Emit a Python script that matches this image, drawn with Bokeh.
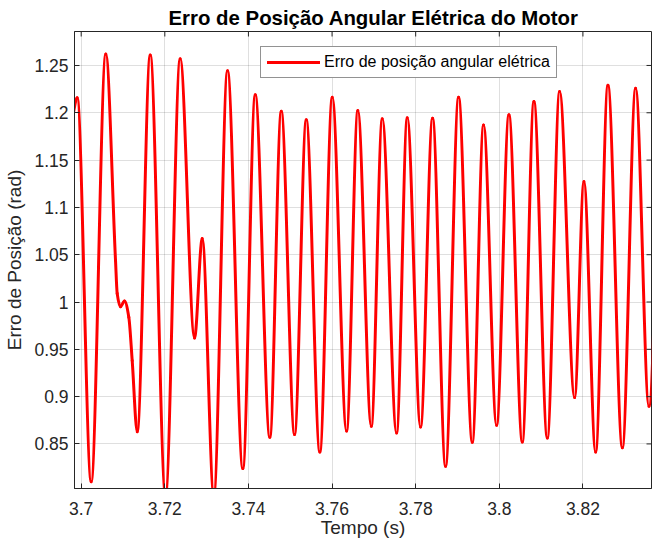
import numpy as np
from bokeh.plotting import figure
from bokeh.models import Range1d, FixedTicker, Legend, LegendItem
from bokeh.embed import file_html
from bokeh.resources import INLINE

# ---- data (time in s, error in rad) ----
time_s = [3.69792, 3.69904, 3.70239, 3.70589, 3.70821, 3.70861, 3.70940, 3.71036,
          3.71139, 3.71220, 3.71340, 3.71651, 3.72017, 3.72368, 3.72711, 3.72895,
          3.73172, 3.73500, 3.73866, 3.74163, 3.74512, 3.74785, 3.75103, 3.75383,
          3.75708, 3.76005, 3.76347, 3.76617, 3.76938, 3.77201, 3.77543, 3.77799,
          3.78117, 3.78404, 3.78715, 3.79026, 3.79354, 3.79624, 3.79935, 3.80230,
          3.80550, 3.80828, 3.81148, 3.81443, 3.81801, 3.82024, 3.82304, 3.82598,
          3.82943, 3.83261, 3.83579, 3.83859]
erro_rad = [1.195, 1.216, 0.810, 1.262, 1.044, 1.009, 0.995, 1.001,
            0.984, 0.938, 0.863, 1.261, 0.796, 1.257, 0.962, 1.067,
            0.796, 1.2445, 0.824, 1.219, 0.857, 1.2015, 0.860, 1.1925,
            0.8415, 1.2165, 0.8637, 1.2024, 0.8687, 1.1937, 0.8616, 1.1947,
            0.868, 1.1943, 0.8264, 1.2165, 0.8518, 1.187, 0.8697, 1.198,
            0.852, 1.212, 0.8563, 1.2225, 0.899, 1.1274, 0.8415, 1.229,
            0.846, 1.226, 0.8898, 1.21]

x_ticks = [3.70, 3.72, 3.74, 3.76, 3.78, 3.80, 3.82]
y_ticks = [0.85, 0.90, 0.95, 1.00, 1.05, 1.10, 1.15, 1.20, 1.25]

title_text = "Erro de Posição Angular Elétrica do Motor"
legend_text = "Erro de posição angular elétrica"
x_label = "Tempo (s)"
y_label = "Erro de Posição (rad)"

AX = "#262626"
FONT = "Liberation Sans"

X0, X1 = 3.6984, 3.8364
Y0, Y1 = 0.8029, 1.2859
FRAME_W, FRAME_H = 577, 457
TICK_PX = 5

# smooth rendering: cubic Bezier segments with monotone (PCHIP) tangents
t = np.array(time_s)
v = np.array(erro_rad)
h = np.diff(t)
d = np.diff(v) / h
m = np.zeros_like(v)
for i in range(1, len(v) - 1):
    if d[i - 1] * d[i] > 0:
        w1 = 2 * h[i] + h[i - 1]
        w2 = h[i] + 2 * h[i - 1]
        m[i] = (w1 + w2) / (w1 / d[i - 1] + w2 / d[i])
m[0] = d[0]
m[-1] = d[-1]

p = figure(width=652, height=544,
           x_range=Range1d(X0, X1), y_range=Range1d(Y0, Y1),
           output_backend="svg", toolbar_location=None,
           min_border_left=74, min_border_right=1, min_border_top=31, min_border_bottom=56,
           background_fill_color="white", border_fill_color="white")

p.title.text = title_text
p.title.text_font = FONT
p.title.text_font_size = "20.4px"
p.title.text_font_style = "bold"
p.title.text_color = "black"
p.title.align = "left"
p.title.offset = 94
p.title.standoff = 5

p.xgrid.ticker = FixedTicker(ticks=x_ticks)
p.ygrid.ticker = FixedTicker(ticks=y_ticks)
p.grid.grid_line_color = AX
p.grid.grid_line_alpha = 0.15
p.grid.grid_line_width = 1

r = p.bezier(x0=t[:-1], y0=v[:-1], x1=t[1:], y1=v[1:],
             cx0=t[:-1] + h / 3, cy0=v[:-1] + m[:-1] * h / 3,
             cx1=t[1:] - h / 3, cy1=v[1:] - m[1:] * h / 3,
             line_color="#ff0000", line_width=3, line_cap="round")

# inward box ticks on the top and right edges
dy_tick = TICK_PX * (Y1 - Y0) / FRAME_H
dx_tick = TICK_PX * (X1 - X0) / FRAME_W
p.segment(x0=x_ticks, x1=x_ticks, y0=[Y1] * len(x_ticks), y1=[Y1 - dy_tick] * len(x_ticks),
          line_color=AX, line_width=1)
p.segment(x0=[X1] * len(y_ticks), x1=[X1 - dx_tick] * len(y_ticks), y0=y_ticks, y1=y_ticks,
          line_color=AX, line_width=1)

p.outline_line_color = AX
p.outline_line_width = 1

for ax in (p.xaxis[0], p.yaxis[0]):
    ax.axis_line_color = AX
    ax.major_tick_line_color = AX
    ax.major_tick_in = TICK_PX
    ax.major_tick_out = 0
    ax.minor_tick_line_color = None
    ax.major_label_text_font = FONT
    ax.major_label_text_font_size = "17.5px"
    ax.major_label_text_color = AX
    ax.axis_label_text_font = FONT
    ax.axis_label_text_font_size = "19px"
    ax.axis_label_text_font_style = "normal"
    ax.axis_label_text_color = AX

p.xaxis.ticker = FixedTicker(ticks=x_ticks)
p.xaxis.major_label_overrides = {tk: f"{tk:g}" for tk in x_ticks}
p.xaxis.axis_label = x_label
p.xaxis.major_label_standoff = 13
p.xaxis.axis_label_standoff = -1

p.yaxis.ticker = FixedTicker(ticks=y_ticks)
p.yaxis.major_label_overrides = {tk: f"{tk:g}" for tk in y_ticks}
p.yaxis.axis_label = y_label
p.yaxis.major_label_standoff = 6
p.yaxis.axis_label_standoff = 6

legend = Legend(items=[LegendItem(label=legend_text, renderers=[r])],
                location=(186, 410), orientation="vertical",
                label_text_font=FONT, label_text_font_size="16px", label_text_color="black",
                glyph_width=53, glyph_height=16, label_height=16, label_standoff=4,
                padding=6, spacing=0, margin=0,
                border_line_color=AX, border_line_width=1,
                background_fill_color="white", background_fill_alpha=1.0)
p.add_layout(legend, "center")

open("out.html", "w").write(file_html(p, INLINE))
